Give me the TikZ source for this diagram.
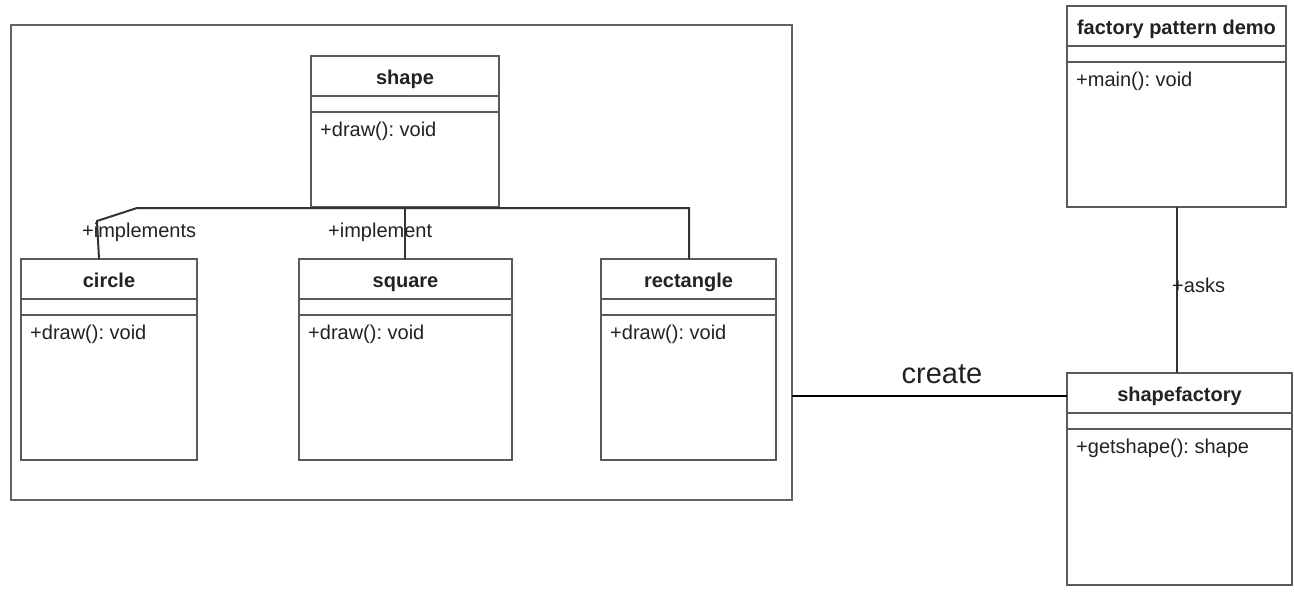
\documentclass[tikz,border=0pt]{standalone}
\usepackage{fontspec}
\setmainfont{Liberation Sans}
\definecolor{boxgray}{HTML}{5A5A5A}
\definecolor{framegray}{HTML}{636363}
\definecolor{txt}{HTML}{222222}
\definecolor{linec}{HTML}{333333}
\newcommand\umlclass[7]{%
  \node[clsbox, minimum width={(#4)-(#2)}, minimum height={(#5)-(#3)}] (#1) at (#2,#3) {};
  \draw[sep] (#2,#3+40) -- (#4,#3+40);
  \draw[sep] (#2,#3+56) -- (#4,#3+56);
  \node[ttl] (#1-t) at ({(#2+#4)/2},#3+28) {#6};
  \node[mth] (#1-m) at (#2+9,#3+80) {#7};
}
\frenchspacing
\begin{document}
\frenchspacing
\begin{tikzpicture}[x=1pt,y=-1pt,
  clsbox/.style={draw=boxgray, line width=2pt, fill=white, inner sep=0pt, outer sep=0pt, anchor=north west},
  sep/.style={draw=boxgray, line width=2pt},
  ttl/.style={font=\fontsize{20}{24}\selectfont\bfseries, text=txt, inner sep=0pt, anchor=base},
  mth/.style={font=\fontsize{20}{24}\selectfont, text=txt, inner sep=0pt, anchor=base west},
  conn/.style={draw=linec, line width=2pt},
  lbl/.style={font=\fontsize{20}{24}\selectfont, text=txt, inner sep=0pt, anchor=base west}]
\useasboundingbox[fill=white] (0,0) rectangle (1294,592);
% outer frame
\node[draw=framegray, line width=2.5pt, inner sep=0pt, outer sep=0pt, anchor=north west,
      minimum width=781, minimum height=475] (frame) at (11,25) {};
% classes
\umlclass{shape}{311}{56}{499}{207}{shape}{+draw(): void}
\umlclass{circle}{21}{259}{197}{460}{circle}{+draw(): void}
\umlclass{square}{299}{259}{512}{460}{square}{+draw(): void}
\umlclass{rect}{601}{259}{776}{460}{rectangle}{+draw(): void}
\umlclass{demo}{1067}{6}{1286}{207}{factory pattern demo}{+main(): void}
\umlclass{factory}{1067}{373}{1292}{585}{shapefactory}{+getshape(): shape}
% connectors
\coordinate (cin) at (99,259);
\coordinate (cbend) at (97,221);
\coordinate (hl) at (137,208);
\coordinate (hr) at (689,208);
\coordinate (cr) at (0,396);
\draw[conn] (cin) -- (cbend) -- (hl) -- (hr) -- (hr |- rect.north);
\draw[conn] (shape.south) -- (shape.south |- square.north);
\draw[conn] (demo.south) -- (demo.south |- factory.north);
\draw[conn, draw=black] (frame.east |- cr) -- (factory.west |- cr);
% labels
\node[lbl] (limpls) at (82,237) {+implements};
\node[lbl] (limpl) at (328,237) {+implement};
\node[lbl] (lasks) at (1172,292) {+asks};
\node[font=\fontsize{29}{34}\selectfont, text=txt, inner sep=0pt, anchor=base] (lcreate) at (942,383) {create};
\end{tikzpicture}
\end{document}
